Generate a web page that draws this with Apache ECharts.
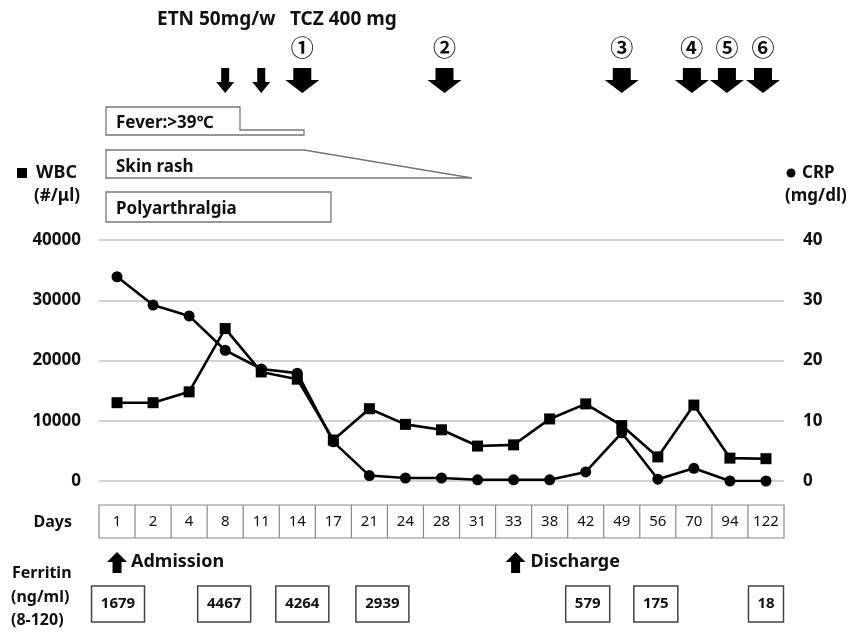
<!DOCTYPE html>
<html>
<head>
<meta charset="utf-8">
<script src="https://cdn.jsdelivr.net/npm/echarts@6/dist/echarts.min.js"></script>
<style>
html,body{margin:0;padding:0;background:#fff;}
#chart{width:861px;height:632px;}
</style>
</head>
<body>
<div id="chart"></div>
<script>
// ---- data ----
const days = ['1','2','4','8','11','14','17','21','24','28','31','33','38','42','49','56','70','94','122'];
const wbc = [13000,13000,14800,25300,18100,16900,6800,12000,9400,8500,5800,6000,10300,12800,9200,4000,12600,3800,3700];
const crp = [33.9,29.2,27.4,21.7,18.6,17.9,6.5,0.9,0.5,0.5,0.2,0.2,0.2,1.5,8.0,0.3,2.1,0.0,0.0];
const ferritinDays = ['1','8','14','21','42','56','122'];
const ferritinValues = ['1679','4467','4264','2939','579','175','18'];
const doseDays = ['8','11','14','28','49','70','94','122'];
const doseLabels = ['','','①','②','③','④','⑤','⑥'];
const wbcTicks = {min:0, max:40000, interval:10000};
const crpTicks = {min:0, max:40, interval:10};

const FONT = '"Noto Sans", "Liberation Sans", sans-serif';
const CJK = '"Noto Sans CJK JP", "Noto Sans", sans-serif';
const chart = echarts.init(document.getElementById('chart'), null, {renderer:'canvas'});

chart.setOption({
  animation:false,
  backgroundColor:'#fff',
  grid:{left:99, right:77, top:240, height:241},
  xAxis:[{
    type:'category', data:days, boundaryGap:true,
    axisLine:{show:false}, axisTick:{show:false}, splitLine:{show:false},
    axisLabel:{margin:33, color:'#111', fontSize:15, fontFamily:FONT, interval:0}
  }],
  yAxis:[{
    type:'value', position:'left', min:wbcTicks.min, max:wbcTicks.max, interval:wbcTicks.interval,
    axisLine:{show:false}, axisTick:{show:false},
    axisLabel:{margin:18, color:'#111', fontSize:17, fontWeight:'bold', fontFamily:FONT, formatter:v=>String(v)},
    splitLine:{lineStyle:{color:'#c4c4c4', width:1.5}}
  },{
    type:'value', position:'right', min:crpTicks.min, max:crpTicks.max, interval:crpTicks.interval,
    axisLine:{show:false}, axisTick:{show:false},
    axisLabel:{margin:19, color:'#111', fontSize:17, fontWeight:'bold', fontFamily:FONT, align:'left', formatter:v=>String(v)},
    splitLine:{show:false}
  }],
  series:[{
    name:'WBC', type:'line', yAxisIndex:0, data:wbc,
    symbol:'rect', symbolSize:11, showSymbol:true,
    lineStyle:{color:'#000', width:2.6}, itemStyle:{color:'#000'}
  },{
    name:'CRP', type:'line', yAxisIndex:1, data:crp,
    symbol:'circle', symbolSize:11, showSymbol:true,
    lineStyle:{color:'#000', width:2.6}, itemStyle:{color:'#000'}
  }]
});

// ---- annotations positioned from the category axis ----
function cx(day){ return chart.convertToPixel({xAxisIndex:0}, days.indexOf(day)); }
const c0 = chart.convertToPixel({xAxisIndex:0}, 0);
const c1 = chart.convertToPixel({xAxisIndex:0}, 1);
const cw = c1 - c0;
const tableL = c0 - cw/2, tableR = cx(days[days.length-1]) + cw/2;

const g = [];
function txt(text, x, y, size, weight, align, family){
  g.push({type:'text', silent:true, style:{text:text, x:x, y:y, fill:'#111',
    font:(weight||'bold')+' '+size+'px '+(family||FONT), textAlign:align||'left', align:align||'left',
    textVerticalAlign:'middle', verticalAlign:'middle'}});
}
function downArrow(x, big){
  const hh = big?17:9, sh = big?9:4, base = big?80:82;
  g.push({type:'polygon', silent:true, shape:{points:[[x-sh,68],[x+sh,68],[x+sh,base],[x+hh,base],[x,93],[x-hh,base],[x-sh,base]]}, style:{fill:'#000'}});
}
function upArrow(x){
  g.push({type:'polygon', silent:true, shape:{points:[[x,552],[x+10,562],[x+4.5,562],[x+4.5,573],[x-4.5,573],[x-4.5,562],[x-10,562]]}, style:{fill:'#000'}});
}

// Days table
g.push({type:'rect', silent:true, shape:{x:tableL, y:505, width:tableR-tableL, height:33}, style:{fill:'none', stroke:'#888', lineWidth:1.2}});
for(let i=1;i<days.length;i++){
  const bx = c0 - cw/2 + i*cw;
  g.push({type:'line', silent:true, shape:{x1:bx,y1:505,x2:bx,y2:538}, style:{stroke:'#888', lineWidth:1.2}});
}
txt('Days', 72, 522, 16, 'bold', 'right');

// dose arrows and labels
const doseShift = [0,0,5,3,0,-2,-3,-3];
doseDays.forEach((d,i)=>{
  const x = cx(d) + doseShift[i];
  downArrow(x, i>=2);
  if(doseLabels[i]) txt(doseLabels[i], x, 47, 23, 'bold', 'center', CJK);
});
txt('ETN 50mg/w', 157, 20, 19, 'bold', 'left');
txt('TCZ 400 mg', 290, 20, 19, 'bold', 'left');

// symptom boxes
const bs = {fill:'#fff', stroke:'#777', lineWidth:1.3};
g.push({type:'polygon', silent:true, shape:{points:[[106,107],[240,107],[240,130],[304,130],[304,135],[106,135]]}, style:bs});
g.push({type:'polygon', silent:true, shape:{points:[[106,150],[304,150],[472,178],[106,178]]}, style:bs});
g.push({type:'rect', silent:true, shape:{x:106, y:192, width:225, height:30}, style:bs});
txt('Fever:>39℃', 116, 123, 17, 'bold', 'left');
txt('Skin rash', 116, 167, 17, 'bold', 'left');
txt('Polyarthralgia', 116, 209, 17, 'bold', 'left');

// axis titles
g.push({type:'rect', silent:true, shape:{x:17, y:168, width:10, height:10}, style:{fill:'#000'}});
txt('WBC', 36, 173, 18, 'bold', 'left');
txt('(#/μl)', 80, 196, 17, 'bold', 'right');
g.push({type:'circle', silent:true, shape:{cx:791, cy:173, r:4.5}, style:{fill:'#000'}});
txt('CRP', 802, 173, 17, 'bold', 'left');
txt('(mg/dl)', 785, 196, 17, 'bold', 'left');

// admission / discharge
upArrow(cx('1'));
txt('Admission', cx('1') + 14, 562, 18, 'bold', 'left');
upArrow(cx('33') + 2);
txt('Discharge', cx('33') + 17, 562, 18, 'bold', 'left');

// ferritin
txt('Ferritin', 12, 573, 16, 'bold', 'left');
txt('(ng/ml)', 11, 597, 16, 'bold', 'left');
txt('(8-120)', 11, 620, 16, 'bold', 'left');
const ferShift = [1,-1,5,13,2,-2,0];
ferritinDays.forEach((d,i)=>{
  const x = cx(d) + ferShift[i];
  const w = 17 + 9*ferritinValues[i].length;
  g.push({type:'rect', silent:true, shape:{x:x-w/2, y:586, width:w, height:36}, style:{fill:'#fff', stroke:'#444', lineWidth:1.5}});
  txt(ferritinValues[i], x, 604, 15, 'bold', 'center');
});

chart.setOption({graphic:{elements:g}});
</script>
</body>
</html>
